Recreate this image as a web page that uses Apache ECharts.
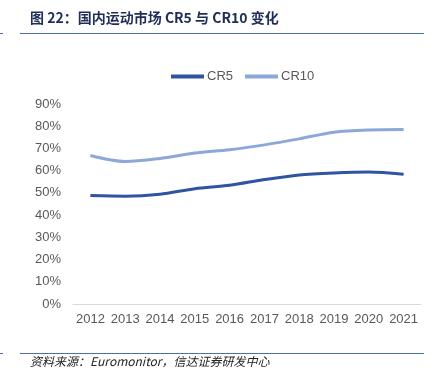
<!DOCTYPE html>
<html><head><meta charset="utf-8">
<script src="https://cdn.jsdelivr.net/npm/echarts@6/dist/echarts.min.js"></script>
<style>html,body{margin:0;padding:0;background:#fff}#c{width:438px;height:372px}</style>
</head><body><div id="c"></div>
<script>
const years = ['2012','2013','2014','2015','2016','2017','2018','2019','2020','2021'];
const cr5 = [48.8, 48.5, 49.4, 51.9, 53.4, 56.0, 58.1, 59.0, 59.4, 58.4];
const cr10 = [66.8, 64.1, 65.5, 67.9, 69.4, 71.6, 74.3, 77.3, 78.3, 78.5];
const yTicks = [0, 10, 20, 30, 40, 50, 60, 70, 80, 90];

const chart = echarts.init(document.getElementById('c'));
chart.setOption({
  animation: false,
  textStyle: {fontFamily: 'Liberation Sans, Noto Sans CJK SC, sans-serif'},
  graphic: [
    {type: 'text', left: 30, top: 11, style: {text: '图 22：国内运动市场 CR5 与 CR10 变化', fill: '#1f2d57', font: 'bold 14px "Noto Sans CJK SC", sans-serif'}},
    {type: 'line', shape: {x1: 20, y1: 33.5, x2: 424, y2: 33.5}, style: {stroke: '#4a6fb5', lineWidth: 1}},
    {type: 'line', shape: {x1: 0, y1: 33.5, x2: 3, y2: 33.5}, style: {stroke: '#4a6fb5', lineWidth: 1}},
    {type: 'line', shape: {x1: 20, y1: 353.5, x2: 424, y2: 353.5}, style: {stroke: '#4a6fb5', lineWidth: 1}},
    {type: 'line', shape: {x1: 0, y1: 353.5, x2: 3, y2: 353.5}, style: {stroke: '#4a6fb5', lineWidth: 1}},
    {type: 'text', left: 30, top: 355, style: {text: '资料来源：Euromonitor，信达证券研发中心', fill: '#222', font: 'italic 12px "Noto Sans CJK SC", sans-serif'}}
  ],
  legend: {
    left: 166, top: 65, itemWidth: 33, itemHeight: 4, itemGap: 12,
    textStyle: {color: '#595959', fontSize: 13, padding: [0,0,0,-2]},
    icon: 'rect',
    data: ['CR5', 'CR10']
  },
  grid: {left: 73, right: 17, top: 104, bottom: 68},
  xAxis: {
    type: 'category', data: years, boundaryGap: true,
    axisLine: {lineStyle: {color: '#d9d9d9'}},
    axisTick: {show: false},
    axisLabel: {color: '#595959', fontSize: 13, margin: 9, interval: 0, hideOverlap: false}
  },
  yAxis: {
    type: 'value', min: yTicks[0], max: yTicks[yTicks.length-1], interval: 10,
    axisLine: {show: false}, axisTick: {show: false}, splitLine: {show: false},
    axisLabel: {color: '#595959', fontSize: 13, formatter: '{value}%', margin: 12}
  },
  series: [
    {name: 'CR5', type: 'line', data: cr5, smooth: 0.3, symbol: 'none', lineStyle: {width: 3, color: '#2f54a3'}, itemStyle: {color: '#2f54a3'}},
    {name: 'CR10', type: 'line', data: cr10, smooth: 0.3, symbol: 'none', lineStyle: {width: 3, color: '#8ea7d9'}, itemStyle: {color: '#8ea7d9'}}
  ]
});
</script></body></html>
